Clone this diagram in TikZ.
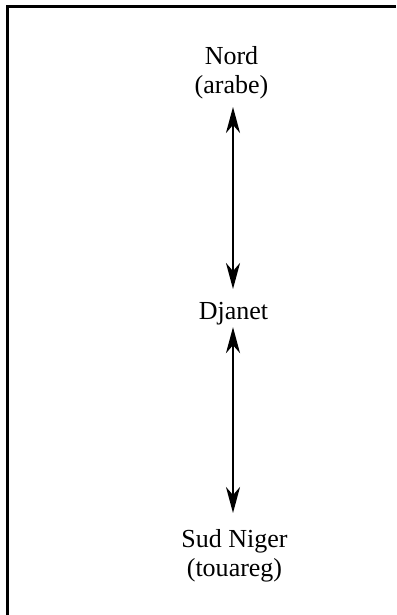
\documentclass[tikz,border=0pt]{standalone}
\usepackage{fontspec}
\setmainfont{Liberation Serif}
\usetikzlibrary{%
  arrows.meta%
}

\begin{document}
\begin{tikzpicture}[x=1pt,y=-1pt,
    place/.style={inner sep=0pt,align=center,anchor=north,font=\fontsize{26}{29}\selectfont},
    link/.style={{Stealth[length=26pt,width=14pt,inset=8pt]}-{Stealth[length=26pt,width=14pt,inset=8pt]},line width=2.3pt}]
      \useasboundingbox (0,0) rectangle (396,615);
      \draw [line width=3pt] (396,7) -- (7,7) -- (7,615);
      \node [place] (nord) at (231.5,46) {Nord\\(arabe)};
      \node [place] (djanet) at (233.5,302) {Djanet};
      \node [place] (sud) at (234.5,529) {Sud Niger\\(touareg)};
      \draw [link,shorten <=8pt,shorten >=13pt] (nord.south -| 233,0) -- (djanet.north -| 233,0);
      \draw [link,shorten <=2pt,shorten >=16pt] (djanet.south -| 233,0) -- (sud.north -| 233,0);
    \end{tikzpicture}
\end{document}
